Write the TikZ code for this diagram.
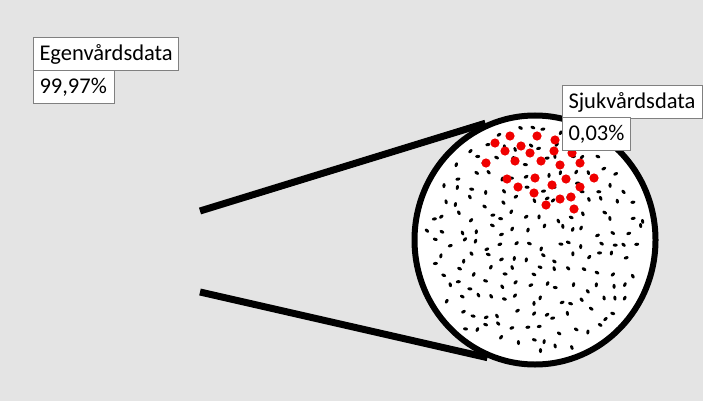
\documentclass[tikz,border=0pt]{standalone}
\usepackage{fontspec}
\setmainfont{Carlito}
\usetikzlibrary{shapes.geometric}
\definecolor{bggray}{HTML}{E4E4E4}
\definecolor{boxline}{HTML}{808080}
\definecolor{dotred}{HTML}{F00000}
\tikzset{
  databox/.style={draw=boxline, line width=1pt, fill=white, anchor=north west,
    inner xsep=6pt, inner ysep=0pt, minimum height=33pt, align=left,
    font=\fontsize{22.5}{24}\selectfont},
  zoomline/.style={line width=7pt, black},
  reddot/.style={fill=dotred},
  speck/.style={fill=black}
}
\begin{document}
\begin{tikzpicture}[x=1pt,y=-1pt]
\fill[bggray] (0,0) rectangle (703,401);
\useasboundingbox (0,0) rectangle (703,401);
% lens circle
\node[ellipse, draw=black, line width=6pt, fill=white, minimum width=241pt, minimum height=249pt, inner sep=0pt] (lens) at (535,240) {};
% specks on a jittered grid
\pgfmathsetseed{7}
\foreach \gx in {0,...,16}{
  \foreach \gy in {0,...,17}{
    \pgfmathsetmacro\px{418+14*\gx+11*(rnd-0.5)}
    \pgfmathsetmacro\py{118+14*\gy+11*(rnd-0.5)}
    \pgfmathsetmacro\rr{((\px-535)/112)^2+((\py-240)/117)^2}
    \pgfmathsetmacro\ang{180*rnd}
    \ifdim\rr pt<0.97pt
      \fill[speck, rotate around={\ang:(\px,\py)}] (\px,\py) ellipse [x radius=2.5, y radius=1.6];
    \fi
  }
}
% red dots
\foreach \p in {(510,136),(537,136),(555,140),(495,143),(521,146),(505,151),(530,153),(554,151),(572,153),(486,163),(515,161),(541,161),(560,165),(580,163),(507,179),(535,178),(566,179),(594,178),(518,187),(552,185),(580,187),(534,193),(560,199),(571,197),(546,205),(574,209)}{
  \fill[reddot] \p circle [radius=4.6];
}
% zoom lines
\coordinate (a) at (200,211);
\coordinate (b) at (200,292);
\draw[zoomline] (a) -- (lens.113);
\draw[zoomline] (b) -- (lens.248);
% labels
\node[databox, text width=133pt] (ego) at (33,37) {Egenvårdsdata};
\node[databox, text width=69pt] (egop) at (33,70) {99,97\%};
\node[databox, text width=128pt] (sjuk) at (562,85) {Sjukvårdsdata};
\node[databox, text width=56pt] (sjukp) at (562,117) {0,03\%};
\end{tikzpicture}
\end{document}
